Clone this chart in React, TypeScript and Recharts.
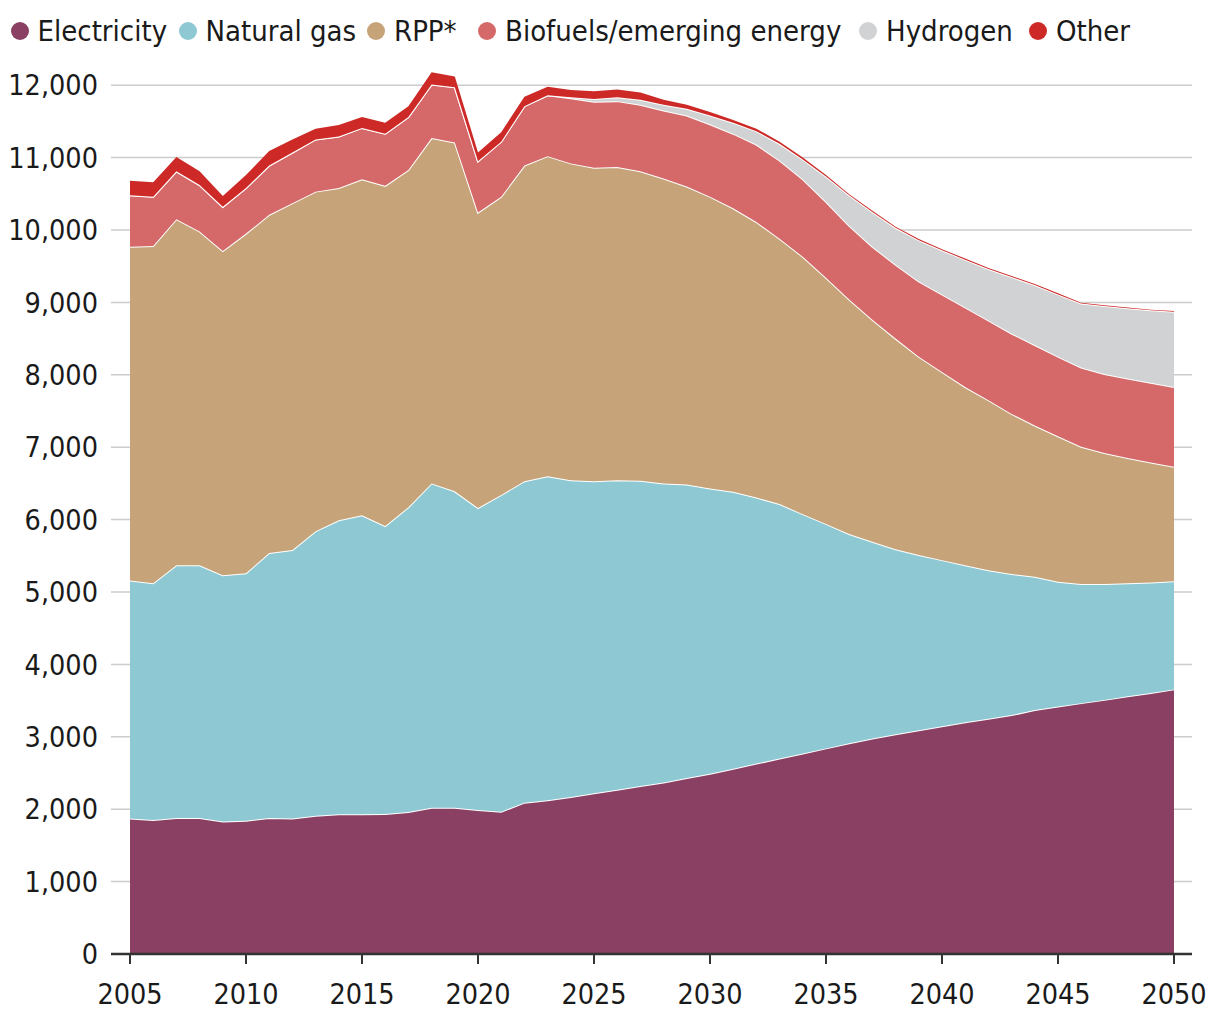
import React from "react";
import { AreaChart, Area, XAxis, YAxis, CartesianGrid } from "recharts";

const years = [
  2005, 2006, 2007, 2008, 2009, 2010, 2011, 2012, 2013, 2014,
  2015, 2016, 2017, 2018, 2019, 2020, 2021, 2022, 2023, 2024,
  2025, 2026, 2027, 2028, 2029, 2030, 2031, 2032, 2033, 2034,
  2035, 2036, 2037, 2038, 2039, 2040, 2041, 2042, 2043, 2044,
  2045, 2046, 2047, 2048, 2049, 2050,
];

const electricity = [
  1870, 1850, 1880, 1880, 1830, 1840, 1880, 1870, 1910, 1930,
  1930, 1935, 1960, 2020, 2020, 1990, 1965, 2090, 2125, 2170,
  2220, 2270, 2320, 2370, 2430, 2490, 2560, 2630, 2700, 2770,
  2840, 2910, 2975, 3035, 3090, 3145, 3200, 3250, 3300, 3370,
  3420, 3465, 3510, 3560, 3605, 3655,
];

const naturalGas = [
  3290, 3270, 3490, 3490, 3400, 3420, 3660, 3710, 3930, 4060,
  4130, 3975, 4210, 4480, 4370, 4170, 4375, 4440, 4475, 4375,
  4310, 4275, 4215, 4130, 4055, 3940, 3825, 3675, 3515, 3305,
  3100, 2890, 2720, 2555, 2420, 2295, 2170, 2050, 1950, 1840,
  1720, 1645, 1600, 1560, 1525, 1495,
];

const rpp = [
  4610, 4660, 4780, 4610, 4480, 4690, 4670, 4790, 4690, 4590,
  4640, 4700, 4660, 4770, 4820, 4080, 4120, 4360, 4420, 4375,
  4330, 4325, 4275, 4210, 4115, 4030, 3915, 3805, 3665, 3555,
  3400, 3240, 3065, 2910, 2740, 2600, 2460, 2350, 2210, 2090,
  2010, 1895, 1810, 1730, 1660, 1580,
];

const biofuels = [
  710, 680, 660, 640, 610, 630, 680, 700, 720, 710,
  710, 720, 730, 740, 760, 710, 760, 820, 840, 900,
  910, 910, 920, 940, 980, 1000, 1030, 1070, 1080, 1070,
  1050, 1020, 1010, 1020, 1040, 1070, 1100, 1100, 1110, 1110,
  1100, 1095, 1090, 1100, 1100, 1100,
];

const hydrogen = [
  0, 0, 0, 0, 0, 0, 0, 0, 0, 0,
  0, 0, 0, 0, 0, 0, 0, 0, 0, 15,
  40, 55, 70, 80, 95, 120, 150, 185, 230, 275,
  350, 420, 480, 510, 570, 610, 660, 710, 780, 830,
  860, 885, 940, 970, 1000, 1040,
];

const other = [
  200, 200, 200, 190, 150, 180, 200, 180, 150, 160,
  150, 150, 150, 170, 150, 120, 130, 130, 120, 100,
  105, 105, 100, 70, 55, 50, 40, 35, 30, 25,
  20, 15, 15, 15, 15, 15, 15, 15, 15, 15,
  15, 10, 10, 10, 10, 10,
];

const xTicks = [2005, 2010, 2015, 2020, 2025, 2030, 2035, 2040, 2045, 2050];
const yTicks = [0, 1000, 2000, 3000, 4000, 5000, 6000, 7000, 8000, 9000, 10000, 11000, 12000];
const Y_MAX = 12500;

const seriesNames = ["Electricity", "Natural gas", "RPP*", "Biofuels/emerging energy", "Hydrogen", "Other"];
const seriesKeys = ["electricity", "naturalGas", "rpp", "biofuels", "hydrogen", "other"];
const seriesColors = ["#8A4062", "#8EC8D3", "#C6A378", "#D56868", "#D1D2D4", "#CD2A27"];

// legend dot centres (layout only)
const legendDotX = [11.5, 179.5, 368, 479, 860, 1030];

const data = years.map((year, i) => ({
  year,
  electricity: electricity[i],
  naturalGas: naturalGas[i],
  rpp: rpp[i],
  biofuels: biofuels[i],
  hydrogen: hydrogen[i],
  other: other[i],
}));

const FONT = '"DejaVu Sans Condensed", "DejaVu Sans", sans-serif';
const TEXT = "#1a1a1a";

function LegendRow() {
  return (
    <div style={{ position: "absolute", top: 0, left: 0, width: 1204, height: 44, fontFamily: FONT, fontSize: 29, color: TEXT }}>
      {seriesNames.map((n, i) => (
        <React.Fragment key={n}>
          <span
            style={{
              position: "absolute",
              left: legendDotX[i] - 9,
              top: 14,
              width: 18,
              height: 18,
              borderRadius: 9,
              background: seriesColors[i],
            }}
          />
          <span
            style={{
              position: "absolute",
              left: legendDotX[i] + 18,
              top: 6,
              lineHeight: "34px",
              whiteSpace: "nowrap",
            }}
          >
            {n}
          </span>
        </React.Fragment>
      ))}
    </div>
  );
}

const gridGenerator = (props: any) => {
  const yAxis = props && props.yAxis;
  if (yAxis && typeof yAxis.scale === "function") {
    return yTicks.map((t) => yAxis.scale(t));
  }
  const off = (props && props.offset) || { top: 41, height: 905 };
  return yTicks.map((t) => off.top + off.height * (1 - t / Y_MAX));
};

export default function App() {
  return (
    <div style={{ position: "relative", width: 1204, height: 1004, background: "#fff" }}>
      <LegendRow />
      <AreaChart
        width={1204}
        height={1004}
        data={data}
        margin={{ top: 41, right: 20, bottom: 8, left: 0 }}
      >
        <CartesianGrid
          vertical={false}
          stroke="#CCCCCC"
          strokeWidth={1.5}
          horizontalCoordinatesGenerator={gridGenerator}
        />
        <XAxis
          dataKey="year"
          type="number"
          domain={[2005, 2050]}
          ticks={xTicks}
          padding={{ left: 19, right: 18 }}
          height={50}
          tickSize={10}
          tickMargin={20}
          axisLine={{ stroke: "#333333", strokeWidth: 2.5 }}
          tickLine={{ stroke: "#333333", strokeWidth: 2 }}
          tick={{ fill: TEXT, fontSize: 28.5, fontFamily: FONT }}
          interval={0}
        />
        <YAxis
          type="number"
          domain={[0, Y_MAX]}
          ticks={yTicks}
          width={103}
          axisLine={false}
          tickLine={false}
          tickSize={0}
          tickMargin={13}
          tick={{ fill: TEXT, fontSize: 28.5, fontFamily: FONT }}
          tickFormatter={(v: number) => v.toLocaleString("en-US")}
          interval={0}
        />
        {seriesKeys.map((k, i) => (
          <Area
            key={k}
            type="linear"
            dataKey={k}
            name={seriesNames[i]}
            stackId="1"
            fill={seriesColors[i]}
            fillOpacity={1}
            stroke={k === "other" ? "none" : "#FFFFFF"}
            strokeWidth={2}
            isAnimationActive={false}
            dot={false}
            activeDot={false}
          />
        ))}
      </AreaChart>
    </div>
  );
}
